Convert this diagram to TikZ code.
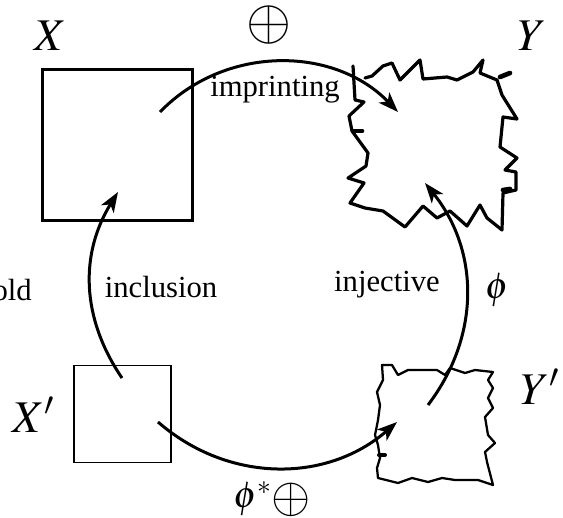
\documentclass[tikz,border=0pt]{standalone}
\usepackage{fix-cm}
\usepackage{mathptmx}
\usepackage{fontspec}
\setmainfont{Liberation Serif}
\usetikzlibrary{arrows.meta}
\newcommand{\bigoplussym}[1]{\raisebox{-0.12em}{\scalebox{#1}{$\oplus$}}}
\begin{document}
\begin{tikzpicture}[x=0.75pt,y=-0.75pt]
\tikzset{
 conn/.style={line width=2.25pt, -{Stealth[length=15pt,width=11pt,inset=4pt]}},
 lbl/.style={font=\fontsize{23}{27}\selectfont, inner sep=0},
 big/.style={font=\fontsize{34}{38}\selectfont, inner sep=0},
 sym/.style={font=\fontsize{28}{32}\selectfont, inner sep=0},
 rough/.style={line width=2.4pt, line join=round, line cap=round},
 roughthin/.style={line width=1.7pt, line join=round, line cap=round},
}
\useasboundingbox (0,0) rectangle (563,517);

% squares
\node[draw, line width=2.25pt, minimum size=112.5pt, inner sep=0] (X) at (117.5,145) {};
\node[draw, line width=1.1pt, minimum size=72.5pt, inner sep=0] (Xp) at (122.5,414) {};
\node[minimum size=110pt, inner sep=0] (Y) at (432,145) {};
\node[minimum size=85pt, inner sep=0] (Yp) at (435,425) {};

% rough outline of Y
\draw[rough] (365,78) -- (372,76) -- (383,66) -- (392,63) -- (400,80) -- (420,60) -- (423,79)
 -- (447,77) -- (457,80) -- (473,72) -- (483,60) -- (480,73) -- (497,80) -- (502,95) -- (517,119)
 -- (503,117) -- (500,147) -- (517,158) -- (505,170) -- (516,172) -- (516,190) -- (503,193)
 -- (502,230) -- (487,218) -- (480,205) -- (467,226) -- (450,211) -- (437,218) -- (423,206)
 -- (405,227) -- (383,211) -- (365,208) -- (350,203) -- (364,183) -- (348,178) -- (366,166)
 -- (368,153) -- (352,131) -- (349,116) -- (364,102) -- (355,100) -- (353,66);
\draw[line width=3.5pt, line cap=round] (500,77) -- (510,73);
\draw[line width=3.5pt, line cap=round] (353,131) -- (362,131);
\draw[line width=3.5pt, line cap=round] (503,190) -- (510,189);

% rough outline of Y'
\draw[roughthin] (382,365) -- (392,365) -- (398,375) -- (408,370) -- (437,370) -- (445,375)
 -- (450,368) -- (465,373) -- (475,370) -- (493,372) -- (488,380) -- (493,388) -- (488,398)
 -- (493,408) -- (485,417) -- (488,435) -- (495,443) -- (485,452) -- (487,462) -- (493,485)
 -- (478,480) -- (455,480) -- (442,478) -- (428,482) -- (412,478) -- (398,483) -- (378,478)
 -- (377,468) -- (380,458) -- (378,445) -- (375,435) -- (378,420) -- (380,405) -- (377,392)
 -- (383,380) -- cycle;
\draw[line width=3pt, line cap=round] (379,455) -- (385,455);

% connector end points
\coordinate (a1) at (160,112);
\coordinate (a2) at (398,112);
\coordinate (b1) at (122,378);
\coordinate (b2) at (118,192);
\coordinate (c1) at (428,405);
\coordinate (c2) at (425,183);
\coordinate (d1) at (158,422);
\coordinate (d2) at (397,422);

\draw[conn] (a1) to[bend left=46] (a2);
\draw[conn] (b1) to[bend left=33] (b2);
\draw[conn] (c1) to[bend right=38] (c2);
\draw[conn] (d1) to[bend right=41] (d2);

% labels
\node[lbl] (t1) at (275,90) {imprinting};
\node[lbl] (t2) at (161,287) {inclusion};
\node[lbl] (t3) at (387,285) {injective};
\node[lbl, anchor=east] (t4) at (32,290) {old};
\node[sym] (t5) at (497,290) {$\phi$};
\node[sym] (t6) at (269,25) {\bigoplussym{1.55}};
\node[sym] (t7) at (272,499) {$\phi^*$\bigoplussym{1.35}};
\node[big] (LX) at (50,36) {$X$};
\node[big] (LY) at (532,36) {$Y$};
\node[big] (LXp) at (33,415) {$X'$};
\node[big] (LYp) at (540,387) {$Y'$};
\end{tikzpicture}
\end{document}
